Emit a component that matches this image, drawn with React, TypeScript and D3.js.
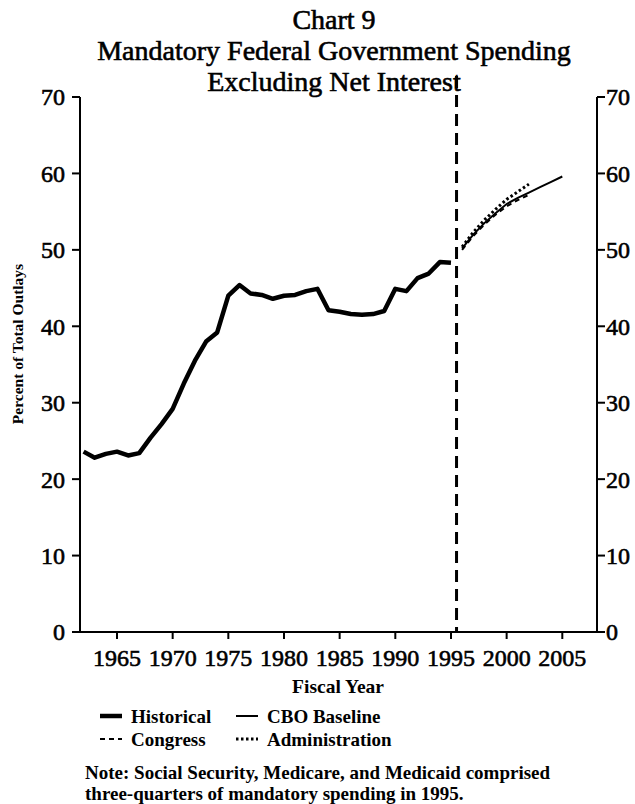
import React from "react";
import * as d3 from "d3";

const titleLines = ["Chart 9", "Mandatory Federal Government Spending", "Excluding Net Interest"];

const histYears = [1962, 1963, 1964, 1965, 1966, 1967, 1968, 1969, 1970, 1971, 1972, 1973, 1974, 1975, 1976, 1977, 1978, 1979, 1980, 1981, 1982, 1983, 1984, 1985, 1986, 1987, 1988, 1989, 1990, 1991, 1992, 1993, 1994, 1995];
const histValues = [23.6, 22.8, 23.3, 23.6, 23.1, 23.4, 25.4, 27.2, 29.2, 32.5, 35.5, 38.0, 39.2, 44.0, 45.4, 44.3, 44.1, 43.6, 44.0, 44.1, 44.6, 44.9, 42.1, 41.9, 41.6, 41.5, 41.6, 42.0, 44.9, 44.6, 46.3, 46.9, 48.4, 48.3];

const cboYears = [1996, 1997, 1998, 1999, 2000, 2001, 2002, 2003, 2004, 2005];
const cboValues = [50.2, 52.0, 53.5, 54.8, 56.0, 56.8, 57.5, 58.2, 58.9, 59.6];

const congressYears = [1996, 1997, 1998, 1999, 2000, 2001, 2002];
const congressValues = [50.0, 51.8, 53.3, 54.6, 55.7, 56.5, 57.2];

const adminYears = [1996, 1997, 1998, 1999, 2000, 2001, 2002];
const adminValues = [50.4, 52.3, 53.9, 55.3, 56.6, 57.6, 58.6];

const xTicks = [1965, 1970, 1975, 1980, 1985, 1990, 1995, 2000, 2005];
const yTicks = [0, 10, 20, 30, 40, 50, 60, 70];
const dividerYear = 1995.5;

const legendItems = [
  { label: "Historical", dash: "", width: 4.5 },
  { label: "CBO Baseline", dash: "", width: 2 },
  { label: "Congress", dash: "5,4", width: 2 },
  { label: "Administration", dash: "2.5,2.5", width: 3 },
];

const noteLines = [
  "Note: Social Security, Medicare, and Medicaid comprised",
  "three-quarters of mandatory spending in 1995.",
];

const FONT = "'Liberation Serif', 'Times New Roman', serif";

export default function App() {
  const W = 635, H = 804;
  const left = 80, right = 597, top = 97, bottom = 632;
  const x = d3.scaleLinear().domain([1965, 2005]).range([117, 562.3]);
  const y = d3.scaleLinear().domain([0, 70]).range([bottom, top]);

  const line = d3.line<number>().x((d) => d[0]).y((d) => d[1]);
  const mk = (ys: number[], vs: number[]) => line(ys.map((yr, i) => [x(yr), y(vs[i])] as any))!;

  const heavy = { stroke: "#000", strokeWidth: 0.6 };

  return (
    <svg width={W} height={H} style={{ position: "absolute", left: 0, top: 0, background: "#fff" }} fontFamily={FONT}>
      <rect width={W} height={H} fill="#fff" />
      {/* Title */}
      <g {...heavy}>
        <text x={334} y={29} textAnchor="middle" fontSize={28}>{titleLines[0]}</text>
        <text x={334} y={60} textAnchor="middle" fontSize={28}>{titleLines[1]}</text>
        <text x={334} y={91} textAnchor="middle" fontSize={28}>{titleLines[2]}</text>
      </g>

      {/* Axes */}
      <g stroke="#000" strokeWidth={2} fill="none">
        <line x1={left} y1={top} x2={left} y2={bottom} />
        <line x1={right} y1={top} x2={right} y2={bottom} />
        <line x1={left} y1={bottom} x2={right} y2={bottom} />
        {yTicks.map((t) => (
          <g key={t}>
            <line x1={left - 8} x2={left} y1={y(t)} y2={y(t)} />
            <line x1={right} x2={right + 8} y1={y(t)} y2={y(t)} />
          </g>
        ))}
        {xTicks.map((t) => (
          <line key={t} x1={x(t)} x2={x(t)} y1={bottom} y2={bottom + 7} />
        ))}
      </g>
      <g fontSize={24} {...heavy}>
        {yTicks.map((t) => (
          <g key={t}>
            <text x={left - 15} y={y(t)} dy="0.35em" textAnchor="end">{t}</text>
            <text x={right + 9} y={y(t)} dy="0.35em" textAnchor="start">{t}</text>
          </g>
        ))}
        {xTicks.map((t) => (
          <text key={t} x={x(t)} y={bottom + 34} textAnchor="middle">{t}</text>
        ))}
      </g>
      <text x={338} y={693} textAnchor="middle" fontSize={19.5} fontWeight="bold">Fiscal Year</text>
      <text transform={`translate(23,344) rotate(-90)`} textAnchor="middle" fontSize={15.5} fontWeight="bold">Percent of Total Outlays</text>

      {/* Divider */}
      <line x1={x(dividerYear)} x2={x(dividerYear)} y1={76} y2={bottom} stroke="#000" strokeWidth={3} strokeDasharray="12,7" />

      {/* Series */}
      <path d={mk(histYears, histValues)} fill="none" stroke="#000" strokeWidth={4.5} strokeLinejoin="round" />
      <path d={mk(congressYears, congressValues)} fill="none" stroke="#000" strokeWidth={2} strokeDasharray="5,4" />
      <path d={mk(cboYears, cboValues)} fill="none" stroke="#000" strokeWidth={2} />
      <path d={mk(adminYears, adminValues)} fill="none" stroke="#000" strokeWidth={3} strokeDasharray="2.5,2.5" />

      {/* Legend */}
      {legendItems.map((it, i) => {
        const col = i % 2, row = Math.floor(i / 2);
        const lx = 100 + col * 136;
        const ly = 716 + row * 23;
        return (
          <g key={it.label}>
            <line x1={lx} x2={lx + 22} y1={ly} y2={ly} stroke="#000" strokeWidth={it.width} strokeDasharray={it.dash || undefined} />
            <text x={lx + 31} y={ly} dy="0.35em" fontSize={19} fontWeight="bold">{it.label}</text>
          </g>
        );
      })}

      {/* Note */}
      {noteLines.map((t, i) => (
        <text key={i} x={85} y={779} dy={i * 21} fontSize={19} fontWeight="bold">{t}</text>
      ))}
    </svg>
  );
}
